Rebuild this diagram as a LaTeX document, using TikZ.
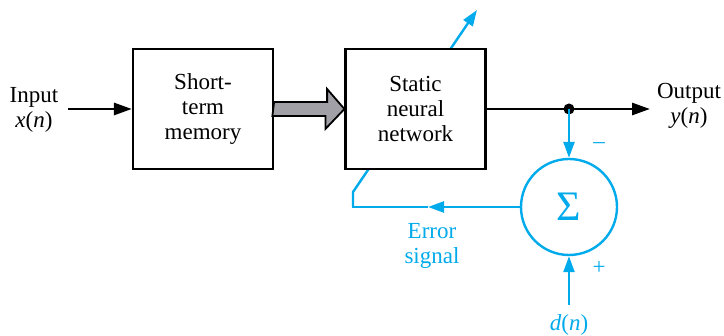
\documentclass[tikz,border=0pt]{standalone}
\usepackage{fontspec}
\setmainfont{Liberation Serif}
\usetikzlibrary{arrows.meta,backgrounds}
\definecolor{sigblue}{RGB}{0,170,235}
\definecolor{shaftgray}{RGB}{160,160,166}

\begin{document}
\begin{tikzpicture}[x=0.5pt,y=-0.5pt,
    font=\fontsize{11.5}{12.5}\selectfont,
    blockbox/.style={draw,line width=1.1pt,fill=white,minimum width=70pt,
        minimum height=60pt,align=center,inner sep=0pt},
    sig/.style={line width=1.4pt,-{Triangle[length=9pt,width=6pt]}},
    fb/.style={sigblue,line width=1.2pt},
    fbarrow/.style={fb,-{Triangle[length=8pt,width=5.5pt]}},
    lbl/.style={align=center,inner sep=0pt}]
    \useasboundingbox (0,0) rectangle (724,336);

    % blocks
    \node[blockbox] (stm) at (203,109) {Short-\\term\\memory};
    \node[blockbox] (snn) at (415.5,109) {Static\\neural\\network};
    \node[circle,draw=sigblue,line width=1.2pt,minimum size=48pt,inner sep=0pt,
        text=sigblue,font=\fontsize{21}{21}\selectfont] (sum) at (569,207) {Σ};

    % labels
    \node[lbl] (xlbl) at (34,110) {Input\\\textit{x}(\textit{n})};
    \node[lbl] (ylbl) at (689,106) {Output\\\textit{y}(\textit{n})};
    \node[lbl,text=sigblue] (dlbl) at (569,325) {\textit{d}(\textit{n})};
    \node[lbl,text=sigblue] (elbl) at (432,246) {Error\\signal};
    \node[lbl,text=sigblue] (minus) at (599,146) {\textendash};
    \node[lbl,text=sigblue] (plus) at (599,268) {+};

    \coordinate (xin) at (68,109);
    \coordinate (tap) at (569,109);
    \coordinate (yout) at (650,109);
    \coordinate (din) at (569,305);
    \coordinate (fbk) at (353,207);
    \coordinate (wt) at (353,192);
    \coordinate (wtip) at (477,10);
    \coordinate (emid) at (428,207);

    % forward path
    \draw[sig] (xin) -- (stm.west);
    \filldraw[fill=shaftgray,line width=0.9pt] (stm.east) ++(0,-7) -- ++(53,0)
        -- ++(0,-13) -- (snn.west) -- ++(-19,20) -- ++(0,-13) -- ++(-53,0) -- cycle;
    \draw[line width=1.4pt] (snn.east) -- (tap);
    \draw[sig] (tap) -- (yout);
    \fill (tap) circle (2.75pt);

    % error path
    \draw[fbarrow] (tap) -- (sum.north);
    \draw[fbarrow] (din) -- (sum.south);
    \draw[fbarrow] (sum.west) -- (emid);
    \draw[fb,line join=miter] (emid) -- (fbk) -- (wt);
    \begin{scope}[on background layer]
        \draw[fbarrow,line join=miter] (fbk) -- (wt) -- (wtip);
    \end{scope}
\end{tikzpicture}
\end{document}
